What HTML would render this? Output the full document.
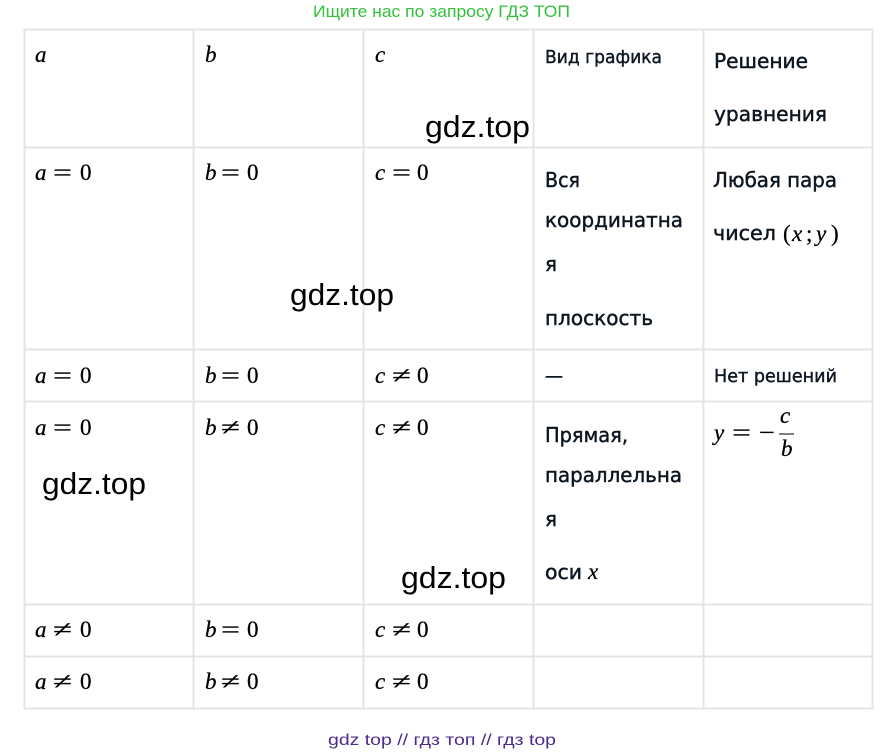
<!DOCTYPE html>
<html>
<head>
<meta charset="utf-8">
<style>
html,body{margin:0;padding:0;background:#fff;}
svg{display:block;}
.t{font-family:"DejaVu Sans","Liberation Sans",sans-serif;font-size:20px;fill:#0d1620;stroke:#0d1620;stroke-width:0.45px;}
.s{font-family:"DejaVu Sans","Liberation Sans",sans-serif;font-size:17.5px;fill:#0d1620;stroke:#0d1620;stroke-width:0.4px;}
.m{font-family:"Liberation Serif","DejaVu Serif",serif;font-size:23px;fill:#000;stroke:#000;stroke-width:0.25px;}
.i{font-style:italic;}
.w{font-family:"Liberation Sans",sans-serif;font-size:31px;fill:#000;}
</style>
</head>
<body>
<svg width="885" height="754" viewBox="0 0 885 754" xmlns="http://www.w3.org/2000/svg">
<rect x="0" y="0" width="885" height="754" fill="#fff"/>

<!-- top banner -->
<text x="313" y="17" font-family="Liberation Sans, sans-serif" font-size="17" fill="#33c13c" textLength="257" lengthAdjust="spacingAndGlyphs">Ищите нас по запросу ГДЗ ТОП</text>

<!-- grid -->
<g stroke="#e3e4e7" stroke-width="2">
<line x1="24.5" y1="29" x2="24.5" y2="709"/>
<line x1="193.5" y1="29" x2="193.5" y2="709"/>
<line x1="363.5" y1="29" x2="363.5" y2="709"/>
<line x1="533.5" y1="29" x2="533.5" y2="709"/>
<line x1="703.5" y1="29" x2="703.5" y2="709"/>
<line x1="872.5" y1="29" x2="872.5" y2="709"/>
<line x1="24" y1="29.5" x2="873" y2="29.5"/>
<line x1="24" y1="147.5" x2="873" y2="147.5"/>
<line x1="24" y1="349.5" x2="873" y2="349.5"/>
<line x1="24" y1="401.5" x2="873" y2="401.5"/>
<line x1="24" y1="604.5" x2="873" y2="604.5"/>
<line x1="24" y1="656.5" x2="873" y2="656.5"/>
<line x1="24" y1="708.5" x2="873" y2="708.5"/>
</g>

<!-- header row -->
<text class="m i" x="35" y="62">a</text>
<text class="m i" x="205" y="62">b</text>
<text class="m i" x="375" y="62">c</text>
<text class="s" x="545" y="63" textLength="117" lengthAdjust="spacingAndGlyphs">Вид графика</text>
<text class="t" x="714" y="68" textLength="94" lengthAdjust="spacingAndGlyphs">Решение</text>
<text class="t" x="714" y="121" textLength="113" lengthAdjust="spacingAndGlyphs">уравнения</text>

<!-- row 2 -->
<text class="m i" x="35" y="180">a</text><text class="m" x="53" y="180" textLength="19" lengthAdjust="spacingAndGlyphs">=</text><text class="m" x="80" y="180">0</text>
<text class="m i" x="205" y="180">b</text><text class="m" x="221" y="180" textLength="19" lengthAdjust="spacingAndGlyphs">=</text><text class="m" x="247" y="180">0</text>
<text class="m i" x="375" y="180">c</text><text class="m" x="392" y="180" textLength="19" lengthAdjust="spacingAndGlyphs">=</text><text class="m" x="417" y="180">0</text>
<text class="t" x="545" y="187" textLength="35" lengthAdjust="spacingAndGlyphs">Вся</text>
<text class="t" x="545" y="227" textLength="138" lengthAdjust="spacingAndGlyphs">координатна</text>
<text class="t" x="545" y="271">я</text>
<text class="t" x="545" y="325" textLength="108" lengthAdjust="spacingAndGlyphs">плоскость</text>
<text class="t" x="713" y="187" textLength="124" lengthAdjust="spacingAndGlyphs">Любая пара</text>
<text class="t" x="713" y="240" textLength="63" lengthAdjust="spacingAndGlyphs">чисел</text>
<text class="m" x="783" y="241">(</text><text class="m i" x="792" y="241">x</text><text class="m" x="806" y="241">;</text><text class="m i" x="816" y="241">y</text><text class="m" x="831" y="241">)</text>

<!-- row 3 -->
<text class="m i" x="35" y="383">a</text><text class="m" x="53" y="383" textLength="19" lengthAdjust="spacingAndGlyphs">=</text><text class="m" x="80" y="383">0</text>
<text class="m i" x="205" y="383">b</text><text class="m" x="221" y="383" textLength="19" lengthAdjust="spacingAndGlyphs">=</text><text class="m" x="247" y="383">0</text>
<text class="m i" x="375" y="383">c</text><text class="m" x="392" y="383" textLength="19" lengthAdjust="spacingAndGlyphs">≠</text><text class="m" x="417" y="383">0</text>
<text class="s" x="545" y="382" textLength="18" lengthAdjust="spacingAndGlyphs">—</text>
<text class="s" x="714" y="382" textLength="123" lengthAdjust="spacingAndGlyphs">Нет решений</text>

<!-- row 4 -->
<text class="m i" x="35" y="435">a</text><text class="m" x="53" y="435" textLength="19" lengthAdjust="spacingAndGlyphs">=</text><text class="m" x="80" y="435">0</text>
<text class="m i" x="205" y="435">b</text><text class="m" x="221" y="435" textLength="19" lengthAdjust="spacingAndGlyphs">≠</text><text class="m" x="247" y="435">0</text>
<text class="m i" x="375" y="435">c</text><text class="m" x="392" y="435" textLength="19" lengthAdjust="spacingAndGlyphs">≠</text><text class="m" x="417" y="435">0</text>
<text class="t" x="545" y="442" textLength="83" lengthAdjust="spacingAndGlyphs">Прямая,</text>
<text class="t" x="545" y="482" textLength="137" lengthAdjust="spacingAndGlyphs">параллельна</text>
<text class="t" x="545" y="526">я</text>
<text class="t" x="545" y="579" textLength="37" lengthAdjust="spacingAndGlyphs">оси</text>
<text class="m i" x="588" y="579">x</text>
<text class="m i" x="714" y="440">y</text>
<text class="m" x="732" y="440" textLength="19" lengthAdjust="spacingAndGlyphs">=</text>
<text class="m" x="759" y="440" textLength="16" lengthAdjust="spacingAndGlyphs">−</text>
<text class="m i" x="780" y="423">c</text>
<line x1="779" y1="434" x2="794" y2="434" stroke="#000" stroke-width="1"/>
<text class="m i" x="781" y="456">b</text>

<!-- row 5 -->
<text class="m i" x="35" y="637">a</text><text class="m" x="53" y="637" textLength="19" lengthAdjust="spacingAndGlyphs">≠</text><text class="m" x="80" y="637">0</text>
<text class="m i" x="205" y="637">b</text><text class="m" x="221" y="637" textLength="19" lengthAdjust="spacingAndGlyphs">=</text><text class="m" x="247" y="637">0</text>
<text class="m i" x="375" y="637">c</text><text class="m" x="392" y="637" textLength="19" lengthAdjust="spacingAndGlyphs">≠</text><text class="m" x="417" y="637">0</text>

<!-- row 6 -->
<text class="m i" x="35" y="689">a</text><text class="m" x="53" y="689" textLength="19" lengthAdjust="spacingAndGlyphs">≠</text><text class="m" x="80" y="689">0</text>
<text class="m i" x="205" y="689">b</text><text class="m" x="221" y="689" textLength="19" lengthAdjust="spacingAndGlyphs">≠</text><text class="m" x="247" y="689">0</text>
<text class="m i" x="375" y="689">c</text><text class="m" x="392" y="689" textLength="19" lengthAdjust="spacingAndGlyphs">≠</text><text class="m" x="417" y="689">0</text>

<!-- watermarks -->
<text class="w" x="425" y="137" textLength="105" lengthAdjust="spacingAndGlyphs">gdz.top</text>
<text class="w" x="290" y="305" textLength="104" lengthAdjust="spacingAndGlyphs">gdz.top</text>
<text class="w" x="42" y="494" textLength="104" lengthAdjust="spacingAndGlyphs">gdz.top</text>
<text class="w" x="401" y="588" textLength="105" lengthAdjust="spacingAndGlyphs">gdz.top</text>

<!-- footer -->
<text x="328" y="745" font-family="Liberation Sans, sans-serif" font-size="16" fill="#4b2a8c" textLength="228" lengthAdjust="spacingAndGlyphs">gdz top  //  гдз топ  //  гдз top</text>
</svg>
</body>
</html>
